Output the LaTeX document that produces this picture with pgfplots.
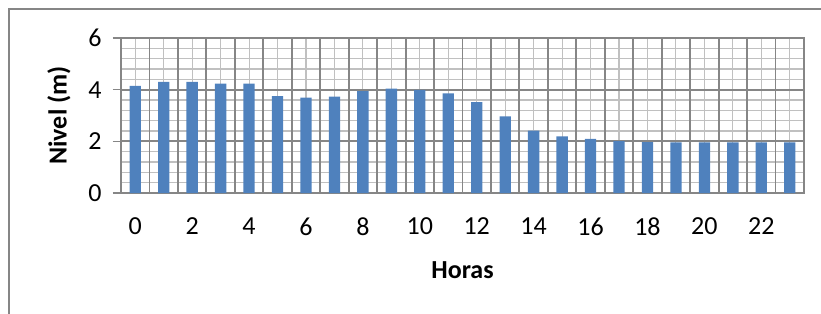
\documentclass[border=0pt]{standalone}
\usepackage{fontspec}
\setmainfont{Carlito}
\usepackage{pgfplots}
\pgfplotsset{compat=1.18}
\definecolor{barblue}{RGB}{79,129,189}
\definecolor{darkgrid}{RGB}{134,134,134}
\definecolor{lightgrid}{RGB}{192,192,192}
\begin{document}
\begin{tikzpicture}
\useasboundingbox (0,0) rectangle (821bp,-314bp);
\draw[darkgrid, line width=1.4bp] (9bp,-9bp) rectangle (860bp,-360bp);
\begin{axis}[
  at={(121bp,-193bp)}, anchor=south west,
  scale only axis, width=683bp, height=155bp,
  xmin=-0.5, xmax=23.5, ymin=0, ymax=6,
  xtick={0,...,23},
  xticklabels={0,,2,,4,,6,,8,,10,,12,,14,,16,,18,,20,,22,},
  ytick={0,2,4,6},
  minor y tick num=4,
  xmajorgrids, ymajorgrids, yminorgrids,
  major grid style={lightgrid, line width=1.1bp},
  minor grid style={lightgrid, line width=1.1bp},
  extra x ticks={-0.5,0.5,1.5,2.5,3.5,4.5,5.5,6.5,7.5,8.5,9.5,10.5,11.5,12.5,13.5,14.5,15.5,16.5,17.5,18.5,19.5,20.5,21.5,22.5,23.5},
  extra x tick labels={},
  extra x tick style={grid=major, major grid style={darkgrid, line width=1.9bp}, major tick length=0pt},
  extra y ticks={0,2,4,6},
  extra y tick labels={},
  extra y tick style={grid=major, major grid style={darkgrid, line width=1.9bp}},
  tick align=outside, tick pos=left,
  major tick length=8bp,
  minor tick length=0pt,
  xtick style={draw=none},
  ytick style={darkgrid, line width=1.6bp},
  axis line style={darkgrid, line width=1.9bp},
  tick label style={font=\fontsize{26bp}{30bp}\selectfont},
  /pgf/number format/assume math mode=true,
  xticklabel style={yshift=-13bp},
  yticklabel style={xshift=-8bp},
  xlabel={\textbf{Horas}},
  ylabel={\textbf{Nivel (m)}},
  label style={font=\fontsize{26bp}{30bp}\selectfont},
  xlabel style={at={(axis description cs:0.5,-0.497)}, anchor=center},
  ylabel style={at={(axis description cs:-0.0908,0.5)}, anchor=center},
  ybar, bar width=11.3bp,
]
\addplot[fill=barblue, draw=none] coordinates {
(0,4.15) (1,4.30) (2,4.30) (3,4.23) (4,4.23) (5,3.75) (6,3.69) (7,3.73)
(8,3.94) (9,4.04) (10,3.99) (11,3.86) (12,3.52) (13,2.97) (14,2.41) (15,2.19)
(16,2.10) (17,2.01) (18,1.97) (19,1.96) (20,1.96) (21,1.96) (22,1.96) (23,1.96)
};
\end{axis}
\end{tikzpicture}
\end{document}
